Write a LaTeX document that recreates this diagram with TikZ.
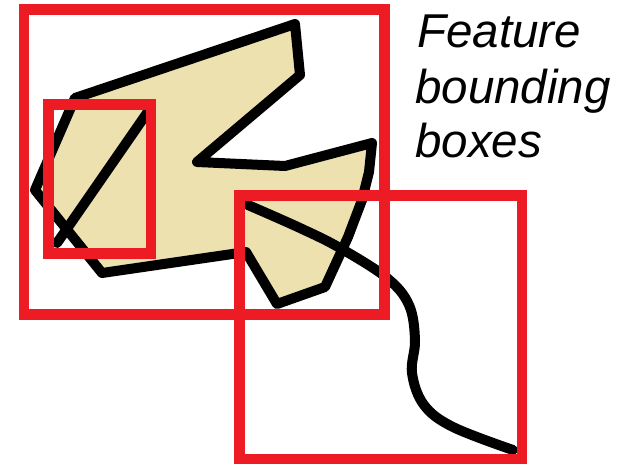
\documentclass[tikz,border=0pt]{standalone}
\usepackage{fontspec}
\setmainfont{Liberation Sans}
\definecolor{boxred}{RGB}{237,28,36}
\definecolor{tan}{RGB}{237,225,176}
\begin{document}
\begin{tikzpicture}[x=1pt,y=-1pt,
  bbox/.style={draw=boxred,line width=10.5pt},
  feat/.style={draw=black,line width=10pt,line join=round,line cap=round},
  lbl/.style={anchor=base west,inner sep=0pt,font=\fontsize{47.5}{56}\selectfont\itshape}]
\useasboundingbox (0,0) rectangle (629,464);
% polygon feature
\filldraw[feat,fill=tan] (372,143) -- (369,172) -- (362,200) -- (348,237) -- (325,287)
  -- (277,304) -- (246,252) -- (102,273) -- (35,190) -- (75,98) -- (295,24)
  -- (300,75) -- (197,162) -- (285,166) -- cycle;
% line feature
\draw[feat] (147,113) -- (57,243);
% curve feature
\draw[feat] plot[smooth,tension=0.6] coordinates {(248,205) (300,228) (340,248) (387,278)
  (409,305) (415,340) (412,373) (424,405) (453,427) (513,450)};
% bounding boxes
\draw[bbox] (24,9.5) rectangle (384.5,314.5);
\draw[bbox] (48.5,104.5) rectangle (151,253.5);
\draw[bbox] (239.5,195.5) rectangle (522,459);
% label
\node[lbl] (t1) at (417,47) {Feature};
\node[lbl] (t2) at (415,103) {bounding};
\node[lbl] (t3) at (415,157) {boxes};
\end{tikzpicture}
\end{document}
